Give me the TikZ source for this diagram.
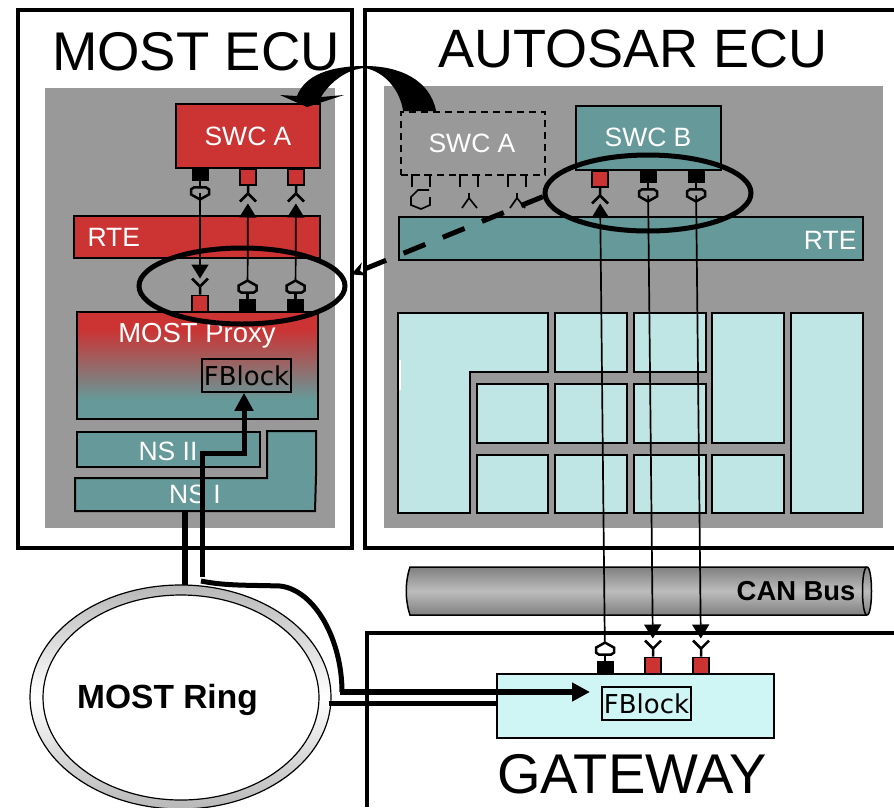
\documentclass[tikz,border=0pt]{standalone}
\usepackage{fontspec}
\setmainfont{Liberation Sans}
\newfontfamily\fblockfont{DejaVu Sans}
\usepackage{xcolor}
\usetikzlibrary{positioning,arrows.meta,shapes.geometric}
\definecolor{mostred}{HTML}{CC3333}
\definecolor{canteal}{HTML}{669999}
\definecolor{celllight}{HTML}{BFE5E5}
\definecolor{gatelight}{HTML}{CFF5F5}
\definecolor{ecugray}{HTML}{999999}
\pgfdeclareverticalshading{proxyfade}{100bp}{color(0bp)=(canteal);color(34bp)=(canteal);color(67bp)=(mostred);color(100bp)=(mostred)}

\begin{document}
\begin{tikzpicture}[x=1pt,y=-1pt,line join=miter]
    \useasboundingbox (0,0) rectangle (894,807);
    \tikzstyle{title}=[font=\fontsize{56}{60}\selectfont]
    \tikzstyle{label}=[font=\fontsize{26.5}{30}\selectfont,text=white]
    \tikzstyle{box}=[draw=black,line width=2pt,inner sep=0pt]
    \tikzstyle{redbox}=[box,fill=mostred]
    \tikzstyle{tealbox}=[box,fill=canteal]
    \tikzstyle{fblock}=[draw=black,line width=1.5pt,inner sep=0pt,minimum width=89pt,minimum height=33pt,font=\fblockfont\fontsize{26}{30}\selectfont]
    \tikzstyle{redport}=[draw=black,line width=1.5pt,fill=mostred,inner sep=0pt,minimum width=16pt,minimum height=16pt]
    \tikzstyle{blackport}=[fill=black,inner sep=0pt,minimum width=17pt,minimum height=13pt]
    \tikzstyle{wire}=[draw=black,line width=1.7pt,-{Triangle[length=14pt,width=17pt]}]
    \tikzstyle{frame}=[draw=black,line width=3.5pt]
    \tikzstyle{cell}=[draw=black,line width=2pt,fill=celllight]
    \tikzstyle{scopering}=[ellipse,draw=black,line width=5pt,inner sep=0pt,minimum width=206pt,minimum height=76pt]
    \tikzstyle{bus}=[draw=black,line width=5.5pt]
    \tikzset{
        sockpin/.pic={
            \draw[line width=2.5pt] (0,0) -- (0,6);
            \draw[line width=2.5pt] (-9,8) -- (-6,6) -- (6,6) -- (9,8) -- (9,13) -- (0,18) -- (-9,13) -- cycle;
        },
        forkpin/.pic={
            \draw[line width=2.5pt] (0,0) -- (0,8) (-8,16) -- (0,8) -- (8,16);
        },
        ghostbox/.pic={
            \draw[line width=1.7pt] (-9,12) -- (-9,0) -- (-1,0) (3,0) -- (9,0) -- (9,12);
        },
        ghostsock/.pic={
            \draw[line width=1.7pt] (8,15) -- (-3,15) -- (-10,22) -- (-10,30) -- (0,34) -- (9,30) -- (9,22);
        },
        ghostfork/.pic={
            \draw[line width=1.7pt] (0,18) -- (0,23) (-7,33) -- (0,23) -- (8,33);
        }
    }

    % frames and grey areas
    \draw[frame] (18,10) rectangle (352,548);
    \draw[frame] (894,10) -- (365,10) -- (365,548) -- (894,548);
    \draw[frame] (894,633) -- (367,633) -- (367,807);
    \fill[ecugray] (45,88) rectangle (335,528);
    \fill[ecugray] (384,86) rectangle (883,528);

    \node[title,font=\fontsize{54.5}{60}\selectfont] (mosttitle) at (196,52) {MOST ECU};
    \node[title,font=\fontsize{54}{60}\selectfont] (autotitle) at (633,49) {AUTOSAR ECU};
    \node[title] (gatetitle) at (632,774) {GATEWAY};

    % MOST ECU
    \node[redbox,minimum width=144pt,minimum height=64pt] (swcmost) at (248,136) {};
    \node[label] at (swcmost) {SWC A};
    \node[redbox,minimum width=246pt,minimum height=42pt] (rtemost) at (197,237) {};
    \node[label,anchor=west] at (84,237) {RTE};
    \node[box,shading=proxyfade,minimum width=241pt,minimum height=107pt] (proxy) at (197.5,365.5) {};
    \node[label,font=\fontsize{27.5}{30}\selectfont] at (197,336) {MOST Proxy};
    \node[fblock] (fbmost) at (246.5,375.5) {FBlock};
    \node[tealbox,minimum width=183pt,minimum height=35pt] (nstwo) at (168.5,449.5) {};
    \node[label] at (168,451) {NS II};
    \draw[box,fill=canteal] (75,478) -- (267,478) -- (267,431) -- (316,431) -- (316,476) -- (315,511) -- (75,511) -- cycle;
    \node[label] (nsone) at (195,494) {NS I};

    % AUTOSAR ECU
    \node[draw=black,line width=1.7pt,dash pattern=on 7pt off 5pt,minimum width=144pt,minimum height=63pt,inner sep=0pt] (swcghost) at (473,143.5) {};
    \node[label] at (472,143) {SWC A};
    \node[tealbox,minimum width=145pt,minimum height=64pt] (swcauto) at (648.5,138) {};
    \node[label] at (648,137) {SWC B};
    \node[tealbox,minimum width=464pt,minimum height=43pt] (rteauto) at (631,238.5) {};
    \node[label,anchor=east] at (860,240) {RTE};

    \draw[cell] (398,313) -- (548,313) -- (548,372) -- (470,372) -- (470,513) -- (398,513) -- cycle;
    \fill[white] (398.5,360) rectangle (400.5,390);
    \foreach \xa/\xb in {555/627,634/706} {
        \foreach \ya/\yb in {313/372,384/443,455/513} {
            \draw[cell] (\xa,\ya) rectangle (\xb,\yb);
        }
    }
    \draw[cell] (477,384) rectangle (548,443);
    \draw[cell] (477,455) rectangle (548,513);
    \draw[cell] (712,313) rectangle (784,443);
    \draw[cell] (712,455) rectangle (784,513);
    \draw[cell] (791,313) rectangle (863,513);

    % CAN bus
    \draw[line width=1.5pt,top color=black!50,bottom color=black!50,middle color=black!26]
        (410,567) -- (867,567) .. controls (873,567) and (873,615) .. (867,615) -- (410,615)
        .. controls (405,600) and (405,582) .. (410,567) -- cycle;
    \draw[line width=1.5pt] (867,567) .. controls (861,567) and (861,615) .. (867,615);
    \node[font=\bfseries\fontsize{27.4}{30}\selectfont,anchor=east] (canlabel) at (859,591) {CAN Bus};

    % gateway
    \node[box,fill=gatelight,minimum width=277pt,minimum height=64pt] (gate) at (635.5,706) {};
    \node[fblock] (fbgate) at (646.5,703.5) {FBlock};

    % ports
    \node[blackport,anchor=north] (ma1) at (200,168) {};
    \node[redport,anchor=north] (ma2) at (248,168) {};
    \node[redport,anchor=north] (ma3) at (296,168) {};
    \node[redport,anchor=south] (mb1) at (200,312) {};
    \node[blackport,anchor=south] (mb2) at (247.5,312) {};
    \node[blackport,anchor=south] (mb3) at (295.5,312) {};
    \node[redport,anchor=north] (sb1) at (600,170) {};
    \node[blackport,anchor=north] (sb2) at (648,170) {};
    \node[blackport,anchor=north] (sb3) at (696,170) {};
    \node[blackport,anchor=south] (gw1) at (605,674) {};
    \node[redport,anchor=south] (gw2) at (653,674) {};
    \node[redport,anchor=south] (gw3) at (701,674) {};

    \pic at (ma1.south) {sockpin};
    \pic at (sb2.south) {sockpin};
    \pic at (sb3.south) {sockpin};
    \pic[yscale=-1] at (mb2.north) {sockpin};
    \pic[yscale=-1] at (mb3.north) {sockpin};
    \pic[yscale=-1] at (gw1.north) {sockpin};
    \foreach \p in {ma2,ma3,sb1} {
        \pic at (\p.south) {forkpin};
    }
    \foreach \p in {mb1,gw2,gw3} {
        \pic[yscale=-1] at (\p.north) {forkpin};
    }
    \foreach \x in {421,469,517} {
        \pic at (\x,175) {ghostbox};
    }
    \pic at (421,175) {ghostsock};
    \pic at (469,175) {ghostfork};
    \pic at (517,175) {ghostfork};

    % wires
    \draw[wire,shorten <=12pt,shorten >=16pt] (ma1.south) -- (mb1.north);
    \draw[wire,shorten <=18pt,shorten >=18pt] (mb2.north) -- (ma2.south);
    \draw[wire,shorten <=18pt,shorten >=18pt] (mb3.north) -- (ma3.south);
    \draw[wire,shorten <=19pt,shorten >=16pt] (gw1.north) -- (sb1.south);
    \draw[wire,shorten <=12pt,shorten >=18pt] (sb2.south) -- (gw2.north);
    \draw[wire,shorten <=12pt,shorten >=18pt] (sb3.south) -- (gw3.north);

    % rings round the ports
    \node[scopering] (scopemost) at (242,286) {};
    \node[scopering] (scopeauto) at (648,193) {};
    \draw[line width=5pt,dash pattern=on 23.5pt off 18.8pt,shorten >=7pt,-{Stealth[length=14pt,width=14pt]}] (scopeauto.182) -- (scopemost.5);

    % swc moved across
    \fill ([xshift=36pt]swcghost.north west) .. controls (430,80) and (400,66) .. (365,66)
        .. controls (330,66) and (305,75) .. (297,96) -- (280,95) -- ([xshift=132pt,yshift=-4pt]swcmost.north west) -- (344,95) -- (321,97)
        .. controls (330,82) and (347,69) .. (365,68)
        .. controls (385,72) and (400,90) .. ([xshift=3pt]swcghost.north west) -- cycle;

    % MOST ring
    \node[ellipse,draw=black,line width=1.2pt,top color=black!28,bottom color=black!28,middle color=white,minimum width=301pt,minimum height=224pt,inner sep=0pt] (ringouter) at (180.5,697) {};
    \node[ellipse,draw=black,line width=1.2pt,fill=white,minimum width=276pt,minimum height=205pt,inner sep=0pt] (ring) at (181,697.5) {};
    \node[font=\bfseries\fontsize{33.5}{36}\selectfont] (ringlabel) at (167.5,700) {MOST Ring};

    % bus lines
    \coordinate (nsbase) at (185,511);
    \coordinate (ringtop) at (185,585);
    \coordinate (ringtap) at (202,577);
    \coordinate (bendA) at (202,453);
    \coordinate (bendB) at (244,453);
    \draw[bus] (nsbase) -- (ringtop);
    \draw[bus,line width=5pt,-{Triangle[length=18pt,width=18pt]}] (ringtap) -- (bendA) -- (bendB) -- (bendB |- fbmost.south);
    \coordinate (curveA) at (201,581);
    \coordinate (curveB) at (342,692);
    \draw[bus,line width=5pt] (curveA) .. controls (225,586) and (250,585) .. (280,586) .. controls (315,590) and (342,640) .. (342,692);
    \draw[bus,-{Triangle[length=18pt,width=18pt]}] (339.5,692) -- (590,692);
    \draw[bus,line width=5pt] (ring.east) ++(9,6) -- (gate.west |- 0,703.5);
\end{tikzpicture}
\end{document}
